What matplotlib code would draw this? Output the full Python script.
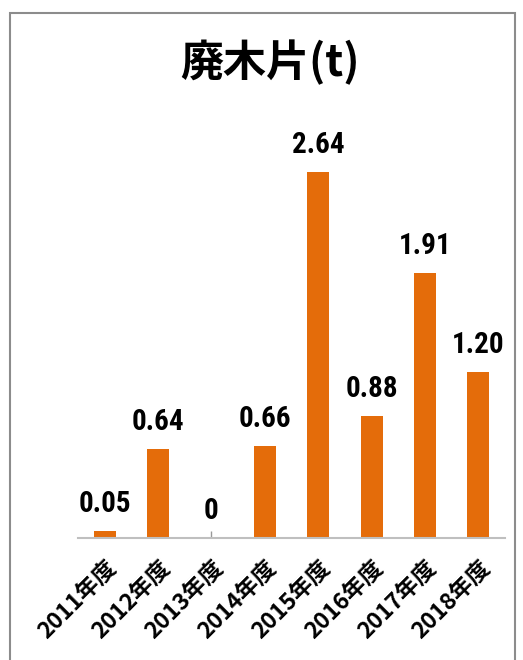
import matplotlib
matplotlib.use("Agg")
import matplotlib.pyplot as plt
from matplotlib.patches import Rectangle

plt.rcParams['font.family'] = ['Noto Sans CJK JP', 'DejaVu Sans']

years = ["2011年度", "2012年度", "2013年度", "2014年度",
         "2015年度", "2016年度", "2017年度", "2018年度"]
values = [0.05, 0.64, 0.0, 0.66, 2.64, 0.88, 1.91, 1.20]
value_labels = ["0.05", "0.64", "0", "0.66", "2.64", "0.88", "1.91", "1.20"]

BAR = "#E46C0A"
GRID = "#BFBFBF"

fig = plt.figure(figsize=(5.23, 6.6), dpi=100)
ax = fig.add_axes([78/523, 122/660, (505-78)/523, (538-122)/660])

x = range(len(values))
ax.bar(x, values, width=0.41, color=BAR, zorder=2)
ax.set_xlim(-0.5, len(values) - 0.5)
ax.set_ylim(0, 3.0)

for xi, v, s in zip(x, values, value_labels):
    ax.annotate(s, (xi, v), xytext=(0, 13.7), textcoords="offset points",
                ha="center", va="baseline", fontsize=21, fontweight="bold",
                family=["Roboto Condensed", "DejaVu Sans"])

ax.set_xticks(list(x))
ax.set_xticklabels(years, rotation=45, ha="right", rotation_mode="anchor",
                   fontsize=16.5, fontweight="bold")
ax.tick_params(axis="x", direction="in", length=5, width=1, color="#999999",
               pad=13)
ax.set_yticks([])
for side in ("left", "right", "top"):
    ax.spines[side].set_visible(False)
ax.spines["bottom"].set_color(GRID)
ax.spines["bottom"].set_linewidth(1.5)
ax.spines["bottom"].set_zorder(3)

fig.text(270/523, 1 - 62/660, "廃木片(t)", ha="center", va="center",
         fontsize=31, fontweight="bold")

# outer chart frame, open at the bottom
fig.patches.append(Rectangle((10/523, -0.05), (515-10)/523, 1.05 - 13/660,
                             transform=fig.transFigure, fill=False,
                             edgecolor="#8C8C8C", linewidth=1.5))

fig.savefig("out.png", dpi=100)
